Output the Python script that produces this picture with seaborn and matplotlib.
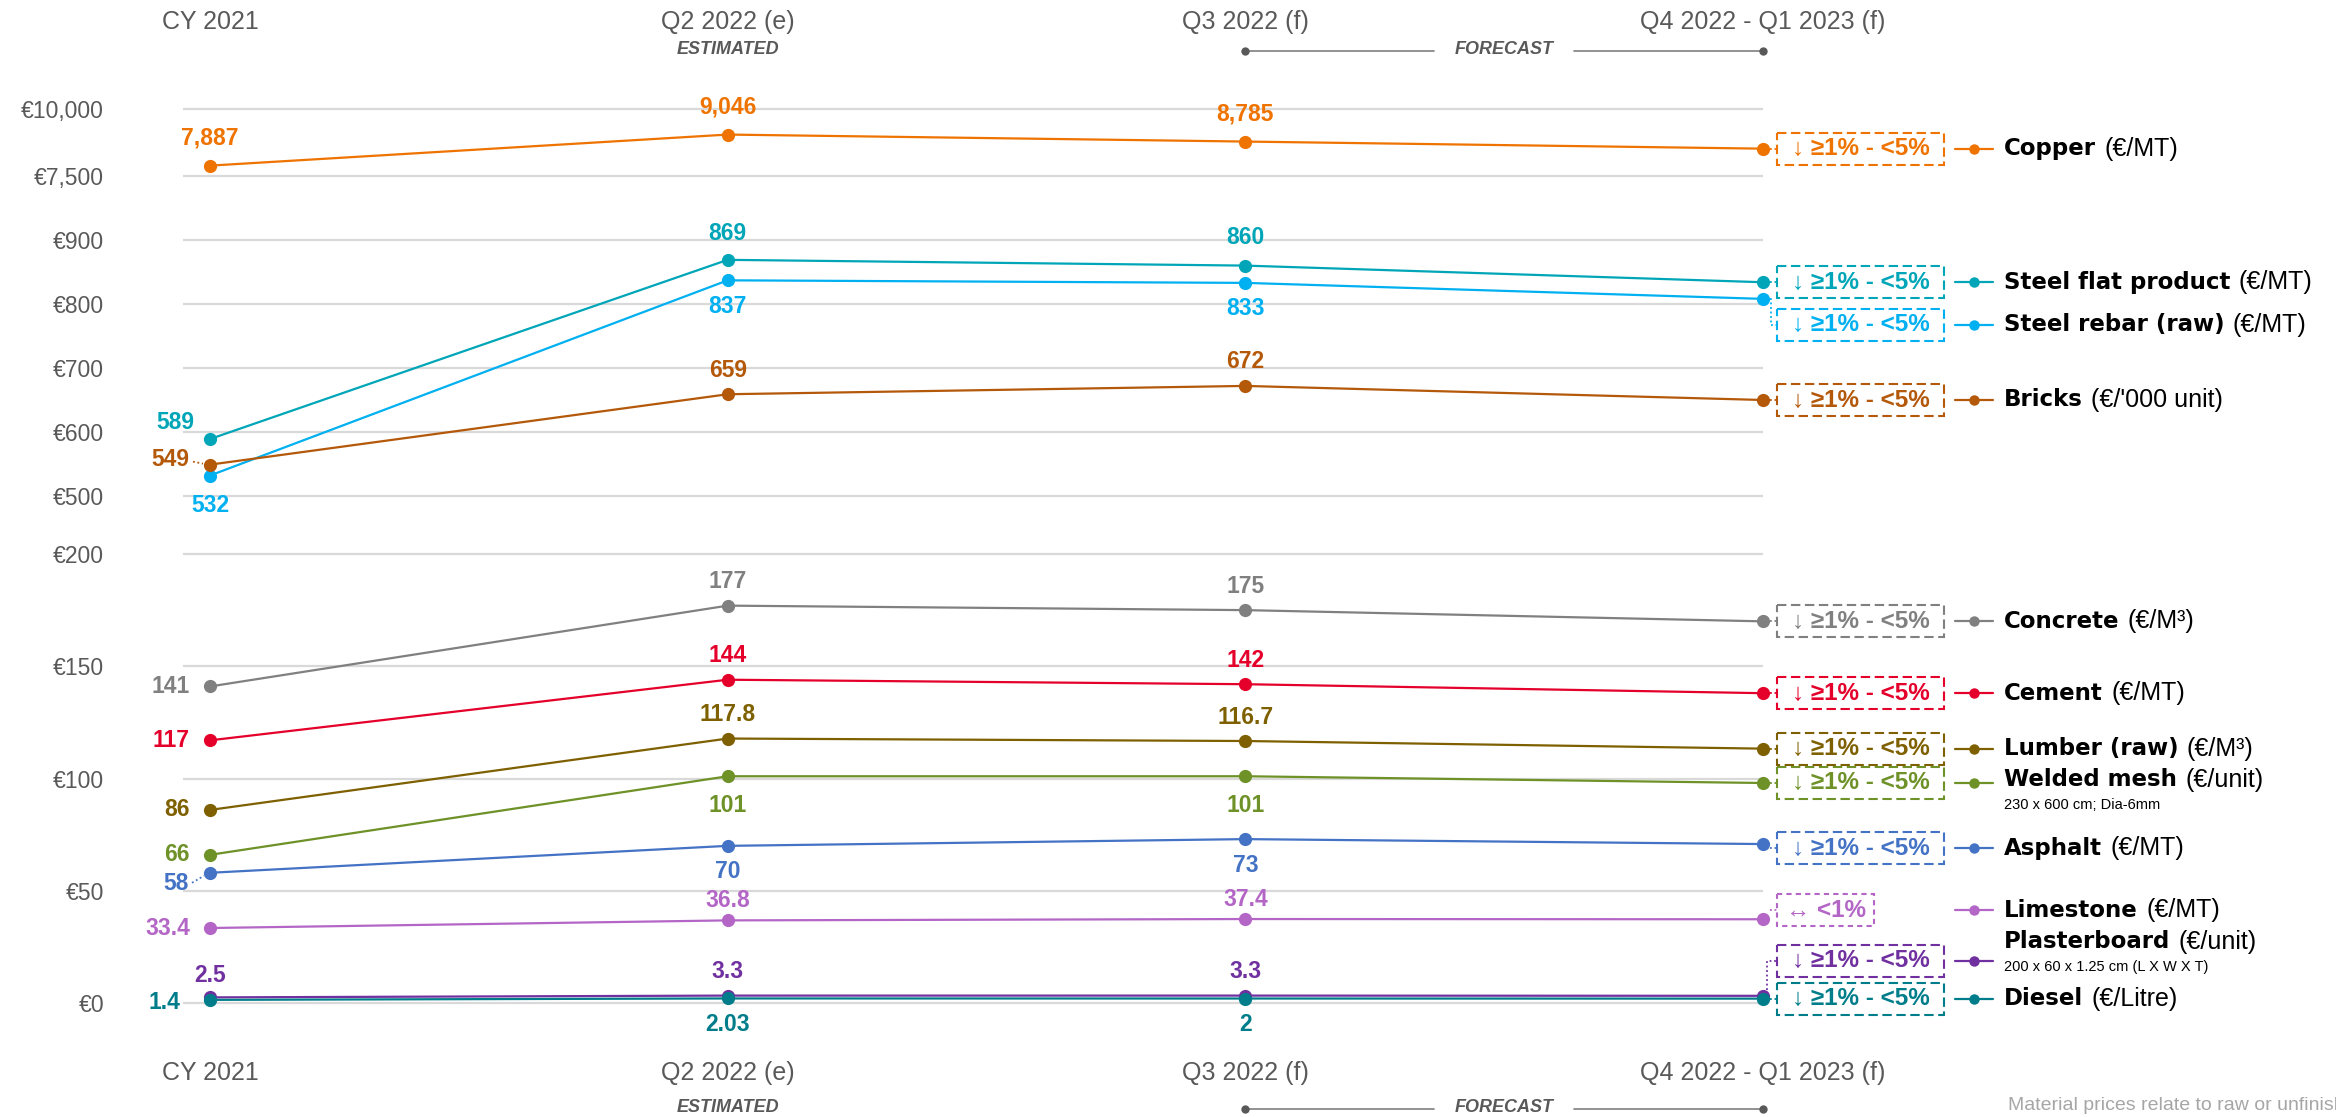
import numpy as np
import pandas as pd
import matplotlib
matplotlib.use("Agg")
import matplotlib.pyplot as plt
import seaborn as sns
from matplotlib.transforms import Affine2D
from matplotlib.patches import Rectangle
from matplotlib.lines import Line2D

# ---------------- data ----------------
periods = ["CY 2021", "Q2 2022 (e)", "Q3 2022 (f)", "Q4 2022 - Q1 2023 (f)"]
materials = ["Copper", "Steel flat product", "Steel rebar (raw)", "Bricks", "Concrete",
             "Cement", "Lumber (raw)", "Welded mesh", "Asphalt", "Limestone",
             "Plasterboard", "Diesel"]
units = ["(€/MT)", "(€/MT)", "(€/MT)", "(€/'000 unit)", "(€/M³)", "(€/MT)", "(€/M³)",
         "(€/unit)", "(€/MT)", "(€/MT)", "(€/unit)", "(€/Litre)"]
notes = {"Welded mesh": "230 x 600 cm; Dia-6mm",
         "Plasterboard": "200 x 60 x 1.25 cm (L X W X T)"}

copper = [7887, 9046, 8785, 8520]
steel_flat = [589, 869, 860, 834]
steel_rebar = [532, 837, 833, 808]
bricks = [549, 659, 672, 650]
concrete = [141, 177, 175, 170]
cement = [117, 144, 142, 138]
lumber = [86, 117.8, 116.7, 113.3]
welded_mesh = [66, 101, 101, 98]
asphalt = [58, 70, 73, 70.8]
limestone = [33.4, 36.8, 37.4, 37.3]
plasterboard = [2.5, 3.3, 3.3, 3.2]
diesel = [1.4, 2.03, 2.0, 1.95]

trends = ["↓ ≥1% - <5%"] * 9 + ["↔ <1%"] + ["↓ ≥1% - <5%"] * 2

grid_values = [0, 50, 100, 150, 200, 500, 600, 700, 800, 900, 7500, 10000]
grid_labels = ["€0", "€50", "€100", "€150", "€200", "€500", "€600", "€700", "€800",
               "€900", "€7,500", "€10,000"]

series_values = [copper, steel_flat, steel_rebar, bricks, concrete, cement, lumber,
                 welded_mesh, asphalt, limestone, plasterboard, diesel]

# ---------------- styles ----------------
colors = ["#EF7300", "#00A6B8", "#00B0F0", "#B4580A", "#808080", "#E4002B",
          "#7F6000", "#6E9128", "#4472C4", "#B366C6", "#7030A0", "#007D8A"]
palette = dict(zip(materials, colors))

W, H = 2336, 1117
sns.set_theme(style="white")
plt.rcParams["font.family"] = ["Liberation Sans", "DejaVu Sans"]

fig = plt.figure(figsize=(W / 100, H / 100), dpi=100)
fig.patch.set_facecolor("white")
X_LEFT, X0, X3 = 183, 210, 1763
ax = fig.add_axes([X_LEFT / W, 0, (X3 - X_LEFT) / W, 1])
ax.set_facecolor("none")

rows = [(m, i, v) for m, vals in zip(materials, series_values) for i, v in enumerate(vals)]
df = pd.DataFrame(rows, columns=["material", "x", "value"])

sns.lineplot(data=df, x="x", y="value", hue="material", hue_order=materials,
             palette=palette, marker="o", markersize=9.5, markeredgewidth=0,
             linewidth=1.6, legend=False, sort=False, estimator=None, ax=ax)
for ln in ax.lines:
    ln.set_clip_on(False)
    ln.set_zorder(3)

# broken (piecewise) value axis
seg_vals = np.array([0, 200, 500, 900, 7500, 10000], dtype=float)
seg_pix = np.array([1003, 554, 496, 240, 176, 109], dtype=float)
lo = 0 - (H - 1003) * (200 / (1003 - 554))
hi = 10000 + 109 * (2500 / (176 - 109))
vals_ext = np.concatenate([[lo], seg_vals, [hi]])
pos_ext = H - np.concatenate([[H], seg_pix, [0]])


def fwd(v):
    return np.interp(v, vals_ext, pos_ext)


def inv(p):
    return np.interp(p, pos_ext, vals_ext)


ax.set_yscale("function", functions=(fwd, inv))
ax.set_ylim(lo, hi)
ax.set_xlim(-(X0 - X_LEFT) / ((X3 - X0) / 3), 3)
ax.set_yticks(grid_values)
ax.set_yticklabels(grid_labels)
ax.set_xticks([])
ax.tick_params(axis="y", length=0, pad=(X_LEFT - 104) * 0.72, labelsize=16.5,
               labelcolor="#595959")
ax.yaxis.grid(True, color="#d9d9d9", linewidth=1.6)
ax.set_axisbelow(True)
ax.set_xlabel("")
ax.set_ylabel("")
for s in ax.spines.values():
    s.set_visible(False)

# pixel transform (x right, y down)
P = Affine2D().scale(1 / W, -1 / H).translate(0, 1) + fig.transFigure


def ypix(xi, v):
    return H - ax.transData.transform((xi, v))[1]


def fmt(v):
    return format(v, ",g")


# ---------------- value labels ----------------
A = (0, -24, "center")
B = (0, 26, "center")
L = (-20, 0, "right")
label_place = {
    "Copper": [(0, -28, "center")] * 3,
    "Steel flat product": [(-16, -17, "right"), (0, -26, "center"), (0, -28, "center")],
    "Steel rebar (raw)": [(0, 30, "center"), B, B],
    "Bricks": [(-21, -5, "right"), A, A],
    "Concrete": [L, A, A],
    "Cement": [L, A, A],
    "Lumber (raw)": [L, A, A],
    "Welded mesh": [L, (0, 29, "center"), (0, 29, "center")],
    "Asphalt": [(-21, 11, "right"), B, B],
    "Limestone": [L, (0, -20, "center"), (0, -20, "center")],
    "Plasterboard": [(0, -22, "center"), A, A],
    "Diesel": [(-30, 3, "right"), B, B],
}
for m, vals, c in zip(materials, series_values, colors):
    for i in range(3):
        dx, dy, ha = label_place[m][i]
        ax.annotate(fmt(vals[i]), xy=(i, vals[i]), xytext=(dx * 0.72, -dy * 0.72),
                    textcoords="offset points", ha=ha, va="center", fontsize=16.5,
                    fontweight="bold", color=c, annotation_clip=False, zorder=5)

# small dotted leaders at CY 2021
for m, (x1, dy1, x2, dy2) in {"Bricks": (193, -3, 203, -1), "Asphalt": (192, 10, 204, 3)}.items():
    k = materials.index(m)
    yp = ypix(0, series_values[k][0])
    fig.add_artist(Line2D([x1, x2], [yp + dy1, yp + dy2], transform=P, color=colors[k],
                          lw=1.3, ls=(0, (1, 1.5))))

# ---------------- right side: trend boxes & legend ----------------
BOX_X0, BOX_W, BOX_H = 1777, 167, 32
box_shift = {"Steel rebar (raw)": 26, "Limestone": -9, "Plasterboard": -35, "Asphalt": 4}
name_shift = {"Welded mesh": -3, "Plasterboard": -19}
for k, (m, vals, c) in enumerate(zip(materials, series_values, colors)):
    yp = ypix(3, vals[3])
    yb = yp + box_shift.get(m, 0)
    bw = 97 if m == "Limestone" else BOX_W
    dash = (0, (2.5, 2)) if m == "Limestone" else (0, (4.5, 2.2))
    fig.add_artist(Rectangle((BOX_X0, yb - BOX_H / 2), bw, BOX_H, transform=P, fill=False,
                             edgecolor=c, lw=1.5, ls=dash))
    fig.text((BOX_X0 + bw / 2) / W, 1 - yb / H, trends[k], ha="center", va="center",
             fontsize=17.5, fontweight="bold", color=c)
    # leader from point to box
    if m == "Steel rebar (raw)":
        xs, ys = [1770, 1771, 1771, BOX_X0], [yp, yp, yb, yb]
    elif m == "Plasterboard":
        xs, ys = [1767, 1767, BOX_X0], [yp - 6, yb, yb]
    else:
        xs, ys = [1770, BOX_X0], [yb, yb]
    fig.add_artist(Line2D(xs, ys, transform=P, color=c, lw=1.3, ls=(0, (1, 1.5))))
    # legend marker
    fig.add_artist(Line2D([1955, 1993], [yb, yb], transform=P, color=c, lw=1.6))
    fig.add_artist(Line2D([1974], [yb], transform=P, color=c, marker="o", ms=7.5, mew=0))
    # legend name + unit
    yn = yb + name_shift.get(m, 0)
    t = fig.text(2004 / W, 1 - yn / H, m, ha="left", va="center", fontsize=16.5,
                 fontweight="bold", family="DejaVu Sans", color="black")
    ax.annotate(units[k], xy=(1, 0.5), xycoords=t, xytext=(6, 0),
                textcoords="offset points", ha="left", va="center", fontsize=18,
                color="black", annotation_clip=False)
    if m in notes:
        fig.text(2004 / W, 1 - (yn + 25) / H, notes[m], ha="left", va="center",
                 fontsize=10.5, color="black")

# ---------------- headers / footers ----------------
xcols = [ax.transData.transform((i, 0))[0] for i in range(4)]
for ycat, ysub in [(22, 50), (1073, 1108)]:
    for i, p in enumerate(periods):
        fig.text(xcols[i] / W, 1 - ycat / H, p, ha="center", va="center", fontsize=18,
                 color="#595959")
    fig.text(xcols[1] / W, 1 - ysub / H, "ESTIMATED", ha="center", va="center",
             fontsize=13, fontweight="bold", style="italic", color="#595959")
    xm = (xcols[2] + xcols[3]) / 2
    fig.text(xm / W, 1 - ysub / H, "FORECAST", ha="center", va="center",
             fontsize=13, fontweight="bold", style="italic", color="#595959")
    for seg in [(xcols[2], xm - 70), (xm + 70, xcols[3])]:
        fig.add_artist(Line2D(list(seg), [ysub + 1, ysub + 1], transform=P,
                              color="#7f7f7f", lw=1.2))
    fig.add_artist(Line2D([xcols[2], xcols[3]], [ysub + 1, ysub + 1], transform=P,
                          color="#595959", lw=0, marker="o", ms=6, mew=0))

fig.text(2008 / W, 1 - 1106 / H, "Material prices relate to raw or unfinished materials",
         ha="left", va="center", fontsize=14, color="#a6a6a6")

fig.savefig("out.png", dpi=100, facecolor="white")
